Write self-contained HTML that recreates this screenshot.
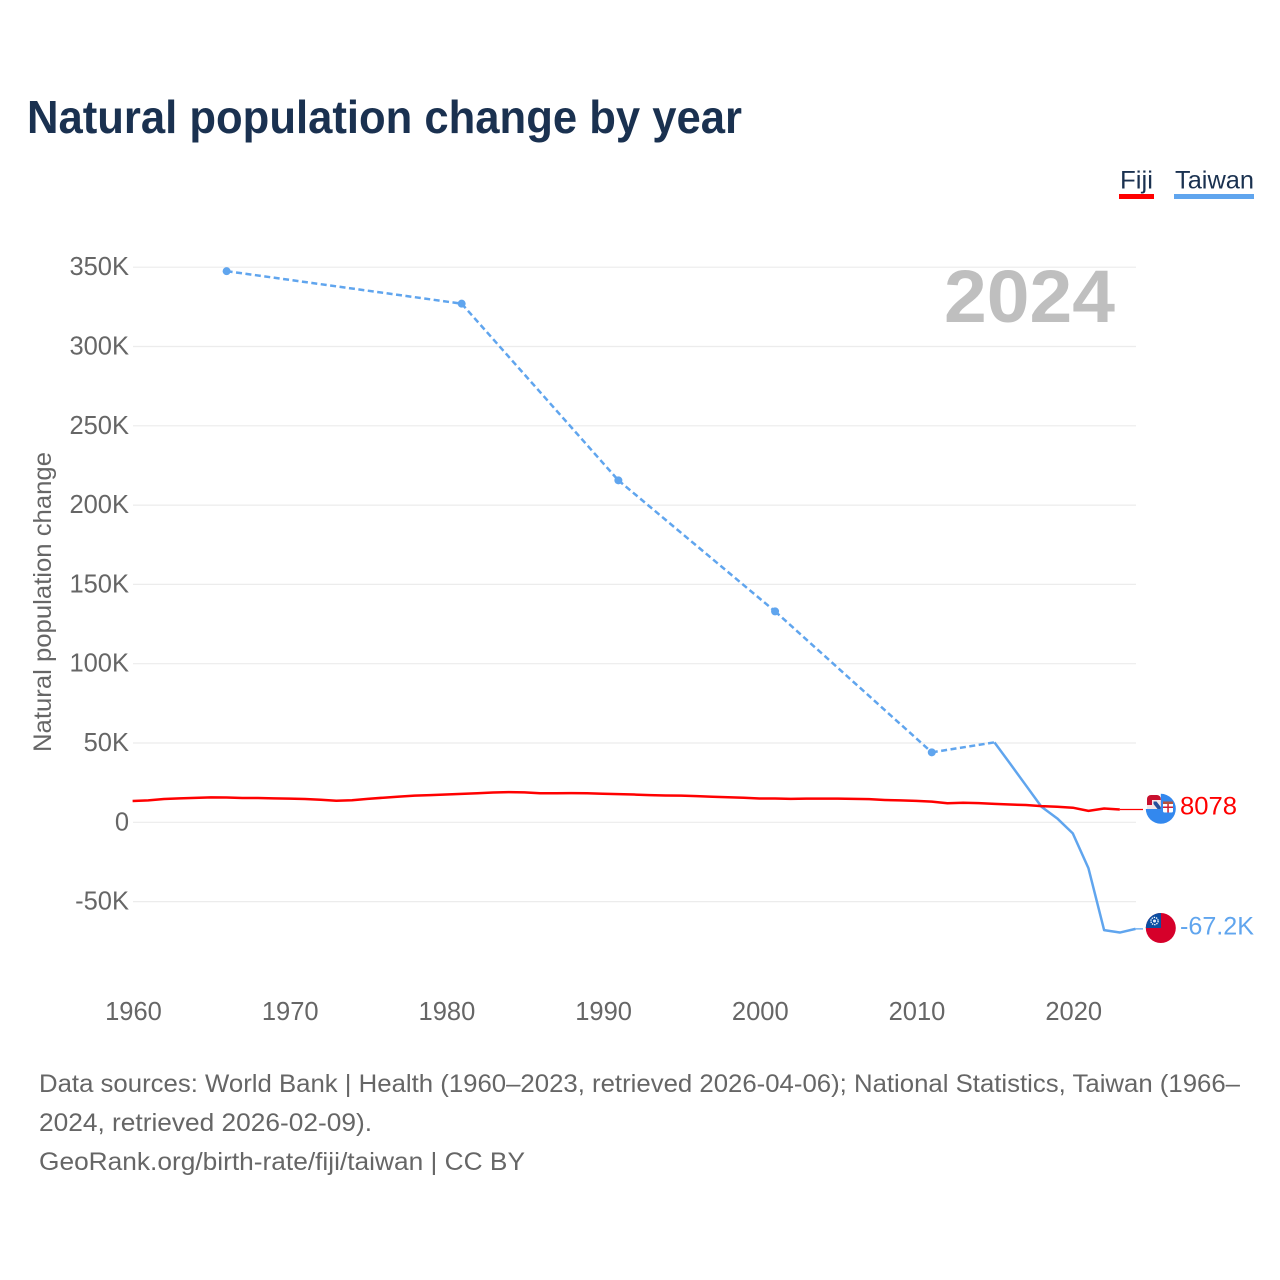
<!DOCTYPE html>
<html lang="en">
<head>
<meta charset="utf-8">
<title>Natural population change by year</title>
<style>
html,body{margin:0;padding:0;background:#fff;width:1280px;height:1280px;overflow:hidden}
svg{display:block}
text{font-family:"Liberation Sans",sans-serif}
</style>
</head>
<body>
<svg id="chart" xmlns="http://www.w3.org/2000/svg" width="1280" height="1280" viewBox="0 0 1280 1280">
  <defs>
    <clipPath id="fiji-clip"><circle cx="1160.8" cy="808.8" r="15"/></clipPath>
    <clipPath id="taiwan-clip"><circle cx="1160.8" cy="928" r="15"/></clipPath>
  </defs>
  <text x="27" y="133" font-size="46" font-weight="700" fill="#1a3150" textLength="715" lengthAdjust="spacingAndGlyphs">Natural population change by year</text>

  <g>
    <g>
      <text x="1120" y="188.5" font-size="25" fill="#1a3150" textLength="33" lengthAdjust="spacingAndGlyphs">Fiji</text>
      <rect x="1119" y="194" width="35" height="5" fill="#ff0000"/>
    </g>
    <g>
      <text x="1175" y="188.5" font-size="25" fill="#1a3150" textLength="79" lengthAdjust="spacingAndGlyphs">Taiwan</text>
      <rect x="1174" y="194" width="80" height="5" fill="#60a5ee"/>
    </g>
  </g>

  <text transform="translate(51,752) rotate(-90)" font-size="25" fill="#666" textLength="300" lengthAdjust="spacingAndGlyphs">Natural population change</text>
  <g id="grid"></g>
  <g id="yticks"></g>
  <g id="xticks"></g>

  <text x="944" y="322" font-size="74" font-weight="700" fill="#bfbfbf" textLength="171" lengthAdjust="spacingAndGlyphs">2024</text>

  <g id="series"></g>

  <g>
    <circle cx="1160.8" cy="808.8" r="15" fill="#3388ee"/>
    <rect x="1145" y="793" width="15.8" height="16" fill="#fff"/>
    <rect x="1147" y="795" width="13.8" height="14" rx="4" fill="#c8102e"/>
    <path d="M1152 800H1160.8V809H1147V805H1152Z" fill="#f4e6e8"/>
    <path d="M1153.5 801.5H1156.5L1160.8 807V809H1157.5L1153.5 804Z" fill="#27509b"/>
    <rect x="1163" y="802" width="10" height="10.5" rx="1.5" fill="#fff" clip-path="url(#fiji-clip)"/>
    <rect x="1163" y="801.5" width="10" height="2.5" fill="#b5533c"/>
    <rect x="1167.3" y="804" width="1.5" height="8.5" fill="#d01c2e"/>
    <rect x="1163" y="806.5" width="10" height="1.5" fill="#d01c2e"/>
  </g>
  <g clip-path="url(#taiwan-clip)">
    <rect x="1145" y="912" width="32" height="32" fill="#d6002a"/>
    <rect x="1145" y="912" width="16" height="16" fill="#0b4ea2"/>
    <circle cx="1154.5" cy="921" r="3.6" fill="none" stroke="#fff" stroke-width="1.3" stroke-dasharray="1.4 0.9"/>
    <circle cx="1154.5" cy="921" r="1.5" fill="#e8eefa"/>
  </g>

  <text x="1180" y="814.5" font-size="25" fill="#ff0000" textLength="57" lengthAdjust="spacingAndGlyphs">8078</text>
  <text x="1180" y="934.5" font-size="25" fill="#60a5ee" textLength="74" lengthAdjust="spacingAndGlyphs">-67.2K</text>

  <g font-size="25" fill="#666">
    <text x="39" y="1092" textLength="1201" lengthAdjust="spacingAndGlyphs">Data sources: World Bank | Health (1960–2023, retrieved 2026-04-06); National Statistics, Taiwan (1966–</text>
    <text x="39" y="1131" textLength="333" lengthAdjust="spacingAndGlyphs">2024, retrieved 2026-02-09).</text>
    <text x="39" y="1170" textLength="486" lengthAdjust="spacingAndGlyphs">GeoRank.org/birth-rate/fiji/taiwan | CC BY</text>
  </g>
</svg>
<script>
const yTickValues = [350, 300, 250, 200, 150, 100, 50, 0, -50];
const yTickLabels = ["350K", "300K", "250K", "200K", "150K", "100K", "50K", "0", "-50K"];
const xTickYears = [1960, 1970, 1980, 1990, 2000, 2010, 2020];
const fijiStartYear = 1960;
const fijiValues = [13.4, 13.8, 14.7, 15.1, 15.4, 15.7, 15.6, 15.3, 15.3, 15.1, 14.9, 14.7, 14.2, 13.6, 13.9, 14.8, 15.5, 16.2, 16.8, 17.1, 17.5, 17.9, 18.3, 18.8, 19.0, 18.9, 18.3, 18.3, 18.4, 18.3, 18.0, 17.8, 17.5, 17.1, 16.9, 16.8, 16.5, 16.1, 15.8, 15.5, 15.0, 15.0, 14.8, 14.9, 14.9, 14.9, 14.8, 14.6, 14.1, 13.8, 13.5, 13.0, 12.0, 12.3, 12.1, 11.6, 11.2, 10.9, 10.2, 9.8, 9.2, 7.2, 8.7, 8.078];
const taiwanYears = [1966, 1981, 1991, 2001, 2011, 2015, 2016, 2017, 2018, 2019, 2020, 2021, 2022, 2023, 2024];
const taiwanValues = [347.5, 327, 215.6, 133, 44.1, 50.4, 37, 23.4, 9.8, 2.5, -7, -29, -68, -69.5, -67.2];

const SVG_NS = "http://www.w3.org/2000/svg";
const xScale = function (year) { return 132.6 + (year - 1960) * 15.67; };
const yScale = function (k) { return 822.3 - k * 1.586; };
const labelX = function (year) { return 133.5 + (year - 1960) * 15.67; };
const FIJI_COLOR = "#ff0000";
const TAIWAN_COLOR = "#60a5ee";
const LEADER_END_X = 1143;

function make(tag, attrs, parent) {
  const el = document.createElementNS(SVG_NS, tag);
  Object.keys(attrs).forEach(function (k) { el.setAttribute(k, attrs[k]); });
  parent.appendChild(el);
  return el;
}

const gridGroup = document.getElementById("grid");
const yTickGroup = document.getElementById("yticks");
const xTickGroup = document.getElementById("xticks");
const seriesGroup = document.getElementById("series");

yTickValues.forEach(function (v, i) {
  const line = make("line", { x1: 133, x2: 1136, y1: yScale(v), y2: yScale(v), stroke: "#ececec", "stroke-width": 1.2 }, gridGroup);
  
  
  const label = make("text", { x: 129, y: yScale(v) + 8, "text-anchor": "end", "font-size": 25.5, fill: "#666" }, yTickGroup);
  
  
  label.textContent = yTickLabels[i];
});

xTickYears.forEach(function (year) {
  const label = make("text", { x: labelX(year), y: 1020, "text-anchor": "middle", "font-size": 25.5, fill: "#666" }, xTickGroup);
  
  
  label.textContent = year;
});

function drawSeries(years, values, color, width, seriesName) {
  let run = [];
  function flushRun() {
    if (run.length > 1) {
      const pts = run.map(function (i) { return xScale(years[i]).toFixed(2) + "," + yScale(values[i]).toFixed(2); }).join(" ");
      const solid = make("polyline", { points: pts, fill: "none", stroke: color, "stroke-width": width, "stroke-linejoin": "round" }, seriesGroup);
      
      
    }
    run = [];
  }
  years.forEach(function (year, i) {
    if (i > 0 && year - years[i - 1] > 1) {
      flushRun();
      const dash = make("line", { x1: xScale(years[i - 1]), y1: yScale(values[i - 1]), x2: xScale(year), y2: yScale(values[i]), stroke: color, "stroke-width": width, "stroke-dasharray": "6 3.5" }, seriesGroup);
      
      
    }
    const hasPrev = i > 0 && year - years[i - 1] === 1;
    const hasNext = i < years.length - 1 && years[i + 1] - year === 1;
    if (!hasPrev && !hasNext) {
      const dot = make("circle", { cx: xScale(year), cy: yScale(values[i]), r: 4, fill: color }, seriesGroup);
      
      
    }
    run.push(i);
  });
  flushRun();
  const last = years.length - 1;
  const leader = make("line", { x1: xScale(years[last]), y1: yScale(values[last]), x2: LEADER_END_X, y2: yScale(values[last]), stroke: color, "stroke-width": 1.3 }, seriesGroup);
  
  
}

const fijiYears = fijiValues.map(function (_, i) { return fijiStartYear + i; });
drawSeries(taiwanYears, taiwanValues, TAIWAN_COLOR, 2.5, "taiwan");
drawSeries(fijiYears, fijiValues, FIJI_COLOR, 2.5, "fiji");
</script>
</body>
</html>
